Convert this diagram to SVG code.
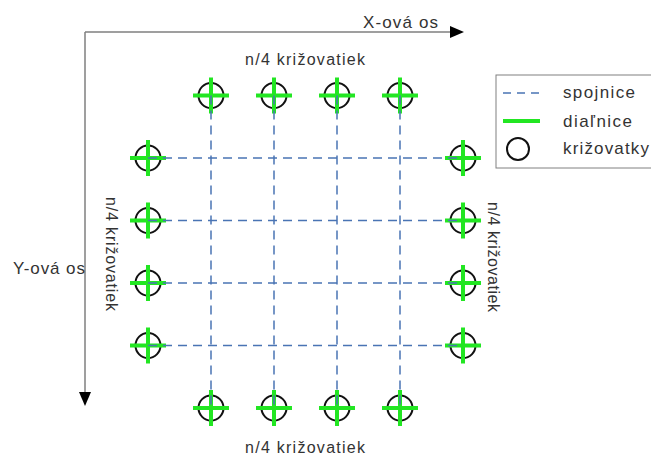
<svg xmlns="http://www.w3.org/2000/svg" width="651" height="455" viewBox="0 0 651 455">
<style>
text{font-family:"Liberation Sans",Arial,sans-serif;fill:#333;}
.lbl{font-size:16px;}
.ax{font-size:17px;}
.lg{font-size:17px;}
.axis{stroke:#808080;stroke-width:1.5;fill:none;}
.dash{stroke:#4a74b4;stroke-width:1.5;stroke-dasharray:9 6;fill:none;}
.ring{fill:none;stroke:#111;stroke-width:2;}
.cross{stroke:#22e622;stroke-width:4;fill:none;}
</style>
<defs>
<g id="jn"><circle class="ring" r="12.5"/><path class="cross" d="M-18 0H18M0 -18V18"/></g>
</defs>
<rect width="651" height="455" fill="#fff"/>
<g id="axes">
<path class="axis" d="M85 32H450M85 32V393"/>
<polygon points="450,26 464,32 450,38" fill="#000"/>
<polygon points="79,392 85,406 91,392" fill="#000"/>
<text class="ax" x="363" y="28" textLength="75">X-ová os</text>
<text class="ax" x="13" y="274" textLength="72">Y-ová os</text>
</g>
<g id="nodes">
<g id="t1"><use href="#jn" x="211" y="95.5"/></g>
<g id="t2"><use href="#jn" x="274" y="95.5"/></g>
<g id="t3"><use href="#jn" x="337" y="95.5"/></g>
<g id="t4"><use href="#jn" x="400" y="95.5"/></g>
<g id="b1"><use href="#jn" x="211" y="408"/></g>
<g id="b2"><use href="#jn" x="274" y="408"/></g>
<g id="b3"><use href="#jn" x="337" y="408"/></g>
<g id="b4"><use href="#jn" x="400" y="408"/></g>
<g id="l1"><use href="#jn" x="148" y="158"/></g>
<g id="l2"><use href="#jn" x="148" y="220.5"/></g>
<g id="l3"><use href="#jn" x="148" y="283"/></g>
<g id="l4"><use href="#jn" x="148" y="345.5"/></g>
<g id="r1"><use href="#jn" x="463" y="158"/></g>
<g id="r2"><use href="#jn" x="463" y="220.5"/></g>
<g id="r3"><use href="#jn" x="463" y="283"/></g>
<g id="r4"><use href="#jn" x="463" y="345.5"/></g>
</g>
<g id="connectors">
<path class="dash" d="M211 95.5V408M274 95.5V408M337 95.5V408M400 95.5V408"/>
<path class="dash" d="M148 158H463M148 220.5H463M148 283H463M148 345.5H463"/>
</g>
<g id="labels">
<text class="lbl" x="245" y="65" textLength="120">n/4 križovatiek</text>
<text class="lbl" x="245" y="453" textLength="120">n/4 križovatiek</text>
<text class="lbl" textLength="114" transform="translate(106 197) rotate(90)">n/4 križovatiek</text>
<text class="lbl" textLength="110" transform="translate(488 202) rotate(90)">n/4 križovatiek</text>
</g>
<g id="legend">
<rect x="496" y="75" width="170" height="93" fill="#fff" stroke="#808080" stroke-width="1"/>
<path d="M503 93H540" stroke="#4a74b4" stroke-width="1.5" stroke-dasharray="8 6"/>
<path d="M503 121H540" stroke="#22e622" stroke-width="4"/>
<circle cx="518" cy="149" r="11" fill="none" stroke="#111" stroke-width="2"/>
<text class="lg" x="563" y="98" textLength="72">spojnice</text>
<text class="lg" x="563" y="127" textLength="69">diaľnice</text>
<text class="lg" x="563" y="154" textLength="86">križovatky</text>
</g>
</svg>
